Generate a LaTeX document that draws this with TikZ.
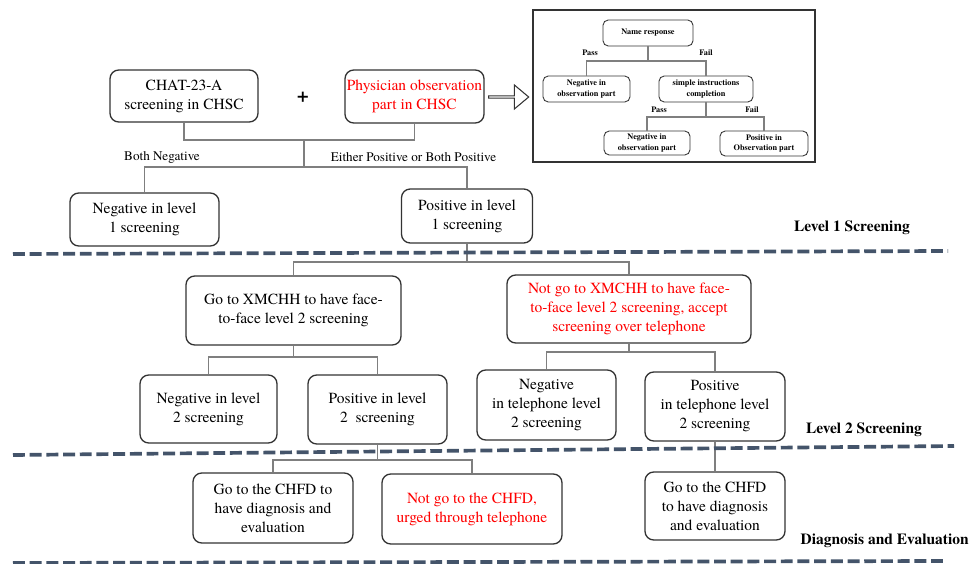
\documentclass[tikz,border=0pt]{standalone}
\usepackage{fontspec}
\setmainfont{TeX Gyre Termes}
\usetikzlibrary{shapes.arrows}
\definecolor{dashcol}{HTML}{44546A}
\definecolor{linkgray}{HTML}{7F7F7F}
\tikzset{
	stagebox/.style = {draw=black!80, line width=0.75pt, rounded corners=5pt, align=center, font=\fontsize{8.8}{10.8}\selectfont, inner sep=1pt},
	boxsize/.style 2 args = {minimum width=#1*0.02cm, minimum height=#2*0.02cm},
	redtext/.style = {text=red},
	link/.style = {draw=linkgray, line width=0.6pt},
	branchlabel/.style = {font=\fontsize{7.5}{9}\selectfont},
	levellabel/.style = {font=\fontsize{8.8}{11}\selectfont\bfseries},
	stageline/.style = {draw=dashcol, line width=2.1pt, dash pattern=on 6.8pt off 2.7pt},
	smallbox/.style = {draw=black!80, line width=0.5pt, rounded corners=3pt, align=center, font=\fontsize{4.7}{6.2}\selectfont\bfseries, inner sep=0.5pt},
	smalllabel/.style = {font=\fontsize{4.7}{6}\selectfont\bfseries},
	hollowarrow/.style = {single arrow, draw=black!80, line width=0.6pt, fill=white, minimum height=0.8cm, minimum width=0.48cm, single arrow head extend=0.1cm, single arrow tip angle=80, inner sep=0pt}
}
\begin{document}
\begin{tikzpicture}[x=0.02cm, y=-0.02cm]
	\useasboundingbox (0,0) rectangle (970,564);
	
	% level 1 screening
	\node[stagebox, boxsize={148}{52}] (chat) at (184,96) {CHAT-23-A\\screening in CHSC};
	\node[font=\fontsize{12}{12}\selectfont\bfseries] (plus) at (303,97) {+};
	\node[stagebox, redtext, boxsize={139}{53}] (phys) at (414.5,96.5) {Physician observation\\part in CHSC};
	\node[hollowarrow] (toinset) at (508,97) {};
	
	\node[stagebox, boxsize={149}{53}] (negone) at (144.5,219.5) {Negative in level\\1 screening};
	\node[stagebox, boxsize={131}{54}] (posone) at (467,216) {Positive in level\\1 screening};
	
	\coordinate (joinone) at (304,140);
	\coordinate (splitone) at (304,167);
	\draw[link] (chat.south) |- (joinone) -| (phys.south);
	\draw[link] (joinone) -- (splitone);
	\draw[link] (splitone) -| (negone.north);
	\draw[link] (splitone) -| (posone.north);
	
	\node[branchlabel] (bothneg) at (162,157) {Both Negative};
	\node[branchlabel] (eitherpos) at (413.5,157) {Either Positive or Both Positive};
	
	% observation part detail
	\draw[draw=black!80, line width=0.9pt] (533,10) rectangle (815,162);
	\node[smallbox, boxsize={90}{26}] (nameresp) at (648,33) {Name response};
	\node[smallbox, boxsize={87}{26}] (negobs) at (586.5,89) {Negative in\\observation part};
	\node[smallbox, boxsize={94}{26}] (simpleinst) at (706,89) {simple instructions\\completion};
	\node[smallbox, boxsize={86}{24}] (negobstwo) at (647,143) {Negative in\\observation part};
	\node[smallbox, boxsize={88}{25}] (posobs) at (764,143.5) {Positive in\\Observation part};
	
	\coordinate (splitname) at (648,61);
	\coordinate (splitsimple) at (706,117);
	\draw[link] (nameresp.south) -- (splitname);
	\draw[link] (splitname) -| (negobs.north);
	\draw[link] (splitname) -| (simpleinst.north);
	\draw[link] (simpleinst.south) -- (splitsimple);
	\draw[link] (splitsimple) -| (negobstwo.north);
	\draw[link] (splitsimple) -| (posobs.north);
	
	\node[smalllabel] (passone) at (590,53) {Pass};
	\node[smalllabel] (failone) at (706,53) {Fail};
	\node[smalllabel] (passtwo) at (659,109.5) {Pass};
	\node[smalllabel] (failtwo) at (752,109.5) {Fail};
	
	% level 2 screening
	\node[stagebox, boxsize={215}{69}] (gofc) at (293.5,310.5) {Go to XMCHH to have face-\\to-face level 2 screening};
	\node[stagebox, redtext, boxsize={244}{68}] (notgo) at (629,309) {Not go to XMCHH to have face-\\to-face level 2 screening, accept\\screening over telephone};
	
	\node[stagebox, boxsize={137}{68}] (negtwo) at (208.5,409) {Negative in level\\2 screening};
	\node[stagebox, boxsize={139}{69}] (postwo) at (377.5,409.5) {Positive in level\\2\ \ screening};
	\node[stagebox, boxsize={139}{70}] (negtel) at (546.5,405) {Negative\\in telephone level\\2 screening};
	\node[stagebox, boxsize={140}{69}] (postel) at (715,406.5) {Positive\\in telephone level\\2 screening};
	
	\coordinate (splittwo) at (467,262);
	\coordinate (splitgo) at (293.5,357);
	\coordinate (splitnot) at (629,352);
	\draw[link] (posone.south) -- (splittwo);
	\draw[link] (splittwo) -| (gofc.north);
	\draw[link] (splittwo) -| (notgo.north);
	\draw[link] (gofc.south) -- (splitgo);
	\draw[link] (splitgo) -| (negtwo.north);
	\draw[link] (splitgo) -| (postwo.north);
	\draw[link] (notgo.south) -- (splitnot);
	\draw[link] (splitnot) -| (negtel.north);
	\draw[link] (splitnot) -| (postel.north);
	
	% diagnosis and evaluation
	\node[stagebox, boxsize={160}{70}] (chfd) at (273,508) {Go to the CHFD to\\have diagnosis and\\evaluation};
	\node[stagebox, redtext, boxsize={180}{70}] (notchfd) at (472,509) {Not go to the CHFD,\\urged through telephone};
	\node[stagebox, boxsize={140}{68}] (chfdtwo) at (715,506) {Go to the CHFD\\to have diagnosis\\and evaluation};
	
	\coordinate (splitpos) at (377.5,460);
	\draw[link] (postwo.south) -- (splitpos);
	\draw[link] (splitpos) -| (chfd.north);
	\draw[link] (splitpos) -| (notchfd.north);
	\draw[link] (postel.south) -- (chfdtwo.north);
	
	% stage separators and labels
	\draw[stageline] (13,254) -- (948,251);
	\draw[stageline] (13,455) -- (954,446);
	\draw[stageline] (13,563) -- (943,561);
	
	\node[levellabel] (levone) at (852,228) {Level 1 Screening};
	\node[levellabel] (levtwo) at (864,430) {Level 2 Screening};
	\node[levellabel, anchor=east, inner sep=0pt] (levdiag) at (969,541) {Diagnosis and Evaluation};
\end{tikzpicture}
\end{document}
